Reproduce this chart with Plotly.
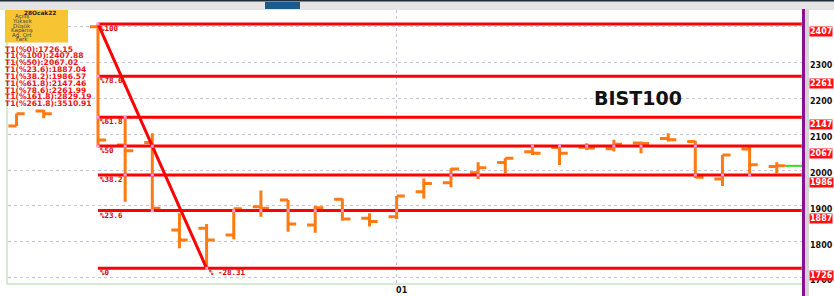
import plotly.graph_objects as go

# ---------------- data ----------------
bar_idx = [-3, -2, 0, 1, 2, 3, 4, 5, 6, 7, 8, 9, 10, 11, 12, 13, 14, 15, 16, 17, 18, 19, 20, 21, 22, 23, 24, 25]
bar_open = [2123, 2165, 2400, 2070, 2077, 1833, 1838, 1819, 1898, 1917, 1847, 1919, 1866, 1870, 1940, 1965,
            1993, 2021, 2051, 2063, 2064, 2060, 2076, 2088, 2080, 1975, 2059, 2010]
bar_high = [2157, 2168, 2407.88, 2150, 2103, 1880, 1850, 1892, 1943, 1917, 1900, 1921, 1880, 1928, 1977, 2005,
            2022, 2033, 2070, 2067, 2075, 2085, 2080, 2103, 2082, 2042, 2065, 2022]
bar_low = [2123, 2145, 2065, 1912, 1889, 1782, 1726.15, 1807, 1870, 1828, 1825, 1859, 1843, 1863, 1921, 1952,
           1975, 1991, 2042, 2014, 2056, 2052, 2047, 2080, 1978, 1956, 1988, 1991]
bar_close = [2157, 2157, 2084, 2054, 1894, 1805, 1805, 1892, 1894, 1850, 1895, 1864, 1857, 1928, 1963, 2003,
             2007, 2033, 2047, 2047, 2062, 2072, 2074, 2085, 1980, 2042, 2015, 2012]

fib_pct = ["%0", "%23.6", "%38.2", "%50", "%61.8", "%78.6", "%100"]
fib_val = [1726.15, 1887.04, 1986.57, 2067.02, 2147.46, 2261.99, 2407.88]

t1_pct = ["%0", "%100", "%50", "%23.6", "%38.2", "%61.8", "%78.6", "%161.8", "%261.8"]
t1_val = ["1726.15", "2407.88", "2067.02", "1887.04", "1986.57", "2147.46", "2261.99", "2829.19", "3510.91"]

trend_x = [0, 4]
trend_y = [2407.88, 1726.15]
trend_label = "% -28.31"

y_tick_vals = [1700, 1800, 1900, 2000, 2100, 2200, 2300, 2400]
y_tick_text = ["1700", "1800", "1900", "2000", "2100", "2200", "2300", ""]
x_tick_vals = [11]
x_tick_text = ["01"]

box_title = "28Ocak22"
box_rows = ["Açılış", "Yüksek", "Düşük", "Kapanış", "Ağ. Ort", "Fark"]
chart_title = "BIST100"

# ---------------- layout geometry ----------------
W, H = 834, 296
ML, MR, MT, MB = 8, 29, 10, 12
PW, PH = W - ML - MR, H - MT - MB
XR = [-3.315, 26.04]
YR = [1682.3, 2446.8]

ORANGE = "#ff7a12"
RED = "#ff0000"


def px(x):
    return (x - ML) / PW


def py(y):
    return (H - MB - y) / PH


fig = go.Figure()

# fib horizontal lines
for v in fib_val:
    fig.add_trace(go.Scatter(x=[0, XR[1]], y=[v, v], mode="lines",
                             line=dict(color=RED, width=3), hoverinfo="skip", showlegend=False))
# trend line
fig.add_trace(go.Scatter(x=trend_x, y=trend_y, mode="lines", line=dict(color=RED, width=3),
                         hoverinfo="skip", showlegend=False))

# ohlc bars
fig.add_trace(go.Ohlc(x=bar_idx, open=bar_open, high=bar_high, low=bar_low, close=bar_close,
                      increasing=dict(line=dict(color=ORANGE, width=3)),
                      decreasing=dict(line=dict(color=ORANGE, width=3)),
                      tickwidth=0.3, showlegend=False, hoverinfo="skip"))

# intersection markers
mx, my = [], []
for i, h, l in zip(bar_idx, bar_high, bar_low):
    if i < 0:
        continue
    for v in fib_val:
        if l - 2 <= v <= h + 2:
            mx.append(i)
            my.append(v)
fig.add_trace(go.Scatter(x=mx, y=my, mode="markers",
                         marker=dict(symbol="square", size=3, color="#f59ae8"),
                         hoverinfo="skip", showlegend=False))

# current price green line
fig.add_trace(go.Scatter(x=[bar_idx[-1] + 0.3, XR[1]], y=[bar_close[-1]] * 2, mode="lines",
                         line=dict(color="#33dd22", width=2), hoverinfo="skip", showlegend=False))

# green squares on purple line
fig.add_trace(go.Scatter(x=[25.985] * len(fib_val), y=fib_val, mode="markers",
                         marker=dict(symbol="square", size=4, color="#6ad36a"),
                         hoverinfo="skip", showlegend=False, cliponaxis=False))

shapes = []
# header
shapes.append(dict(type="rect", xref="paper", yref="paper", x0=px(0), x1=px(W), y0=py(10), y1=py(0),
                   fillcolor="#e4e4e4", line=dict(width=0), layer="below"))
shapes.append(dict(type="rect", xref="paper", yref="paper", x0=px(0), x1=px(W), y0=py(1.5), y1=py(0),
                   fillcolor="#1f2d3d", line=dict(width=0)))
shapes.append(dict(type="rect", xref="paper", yref="paper", x0=px(265), x1=px(300), y0=py(9), y1=py(2),
                   fillcolor="#1b5b8a", line=dict(width=0)))
# plot borders (light green)
shapes.append(dict(type="line", xref="paper", yref="paper", x0=px(7), x1=px(7), y0=py(284), y1=py(10),
                   line=dict(color="#c6e6c6", width=1.5)))
shapes.append(dict(type="line", xref="paper", yref="paper", x0=px(7), x1=px(804), y0=py(284), y1=py(284),
                   line=dict(color="#c6e6c6", width=1.5)))
# gray strip and purple line
shapes.append(dict(type="rect", xref="paper", yref="paper", x0=px(805), x1=px(809), y0=py(296), y1=py(9),
                   fillcolor="#d6d6d6", line=dict(width=0)))
shapes.append(dict(type="line", xref="paper", yref="paper", x0=px(803.5), x1=px(803.5), y0=py(296), y1=py(9),
                   line=dict(color="#86148f", width=3)))
# legend box
shapes.append(dict(type="rect", xref="paper", yref="paper", x0=px(5), x1=px(68), y0=py(42.5), y1=py(10),
                   fillcolor="#f7c433", line=dict(width=0)))

ann = []


def text(xp, yp, s, size, color, family="DejaVu Sans", weight="normal", xanchor="left",
         yanchor="middle", bg=None):
    d = dict(xref="paper", yref="paper", x=px(xp), y=py(yp), text=s, showarrow=False,
             xanchor=xanchor, yanchor=yanchor, borderpad=0,
             font=dict(size=size, color=color, family=family, weight=weight))
    if bg:
        d["bgcolor"] = bg
    ann.append(d)


# legend box text
text(40, 13.3, box_title, 5.8, "#222222", weight="bold", xanchor="center")
row_y = [16.8, 21.5, 26.0, 30.6, 35.0, 39.3]
for s, yy in zip(box_rows, row_y):
    text(22, yy, s, 5.5, "#444444", xanchor="center")

# T1 lines
for k, (p, v) in enumerate(zip(t1_pct, t1_val)):
    text(4, 49 + k * 6.85, f"T1({p}):{v}", 7.6, "#ee1111", family="DejaVu Sans", weight="bold")

# fib labels on lines
for p, v in zip(fib_pct, fib_val):
    ann.append(dict(xref="x", yref="y", x=0, y=v, text=p, showarrow=False, xanchor="left",
                    yanchor="top", xshift=1, yshift=1, borderpad=0,
                    font=dict(size=7.5, color="#dd0000", family="DejaVu Sans Mono", weight="bold")))
ann.append(dict(xref="x", yref="y", x=trend_x[1], y=trend_y[1], text=trend_label, showarrow=False,
                xanchor="left", yanchor="top", xshift=1, yshift=1, borderpad=0,
                font=dict(size=7.5, color="#dd0000", family="DejaVu Sans Mono", weight="bold")))

# right red value boxes
for v in fib_val:
    ann.append(dict(xref="paper", yref="y", x=px(809.5), y=v, text=str(int(v)), showarrow=False,
                    xanchor="left", yanchor="top", yshift=-2, borderpad=0, bgcolor="#ff1010",
                    font=dict(size=8, color="white", family="DejaVu Sans", weight="bold")))

# title
text(638, 98, chart_title, 19, "#111111", weight="bold", xanchor="center")

fig.update_layout(
    width=W, height=H,
    margin=dict(l=ML, r=MR, t=MT, b=MB, pad=0, autoexpand=False),
    paper_bgcolor="white", plot_bgcolor="white",
    showlegend=False,
    shapes=shapes, annotations=ann,
    xaxis=dict(range=XR, tickvals=x_tick_vals, ticktext=x_tick_text, showgrid=True, automargin=False,
               gridcolor="#c4c4e4", griddash="dot", gridwidth=1, zeroline=False, showline=False,
               ticks="", tickfont=dict(size=8, color="#111111", family="DejaVu Sans", weight="bold"),
               ticklabelshift=5, ticklabelstandoff=0, rangeslider=dict(visible=False), fixedrange=True),
    yaxis=dict(range=YR, side="right", tickvals=y_tick_vals, ticktext=y_tick_text, showgrid=True,
               automargin=False,
               gridcolor="#c4c4e4", griddash="dot", gridwidth=1, zeroline=False, showline=False,
               ticks="", ticklabelshift=3, ticklabelstandoff=4,
               tickfont=dict(size=8, color="#111111", family="DejaVu Sans", weight="bold"), fixedrange=True),
)

fig.write_html("out.html", config={"displayModeBar": False},
               post_script="document.body.style.margin='0px';document.body.style.overflow='hidden';")
